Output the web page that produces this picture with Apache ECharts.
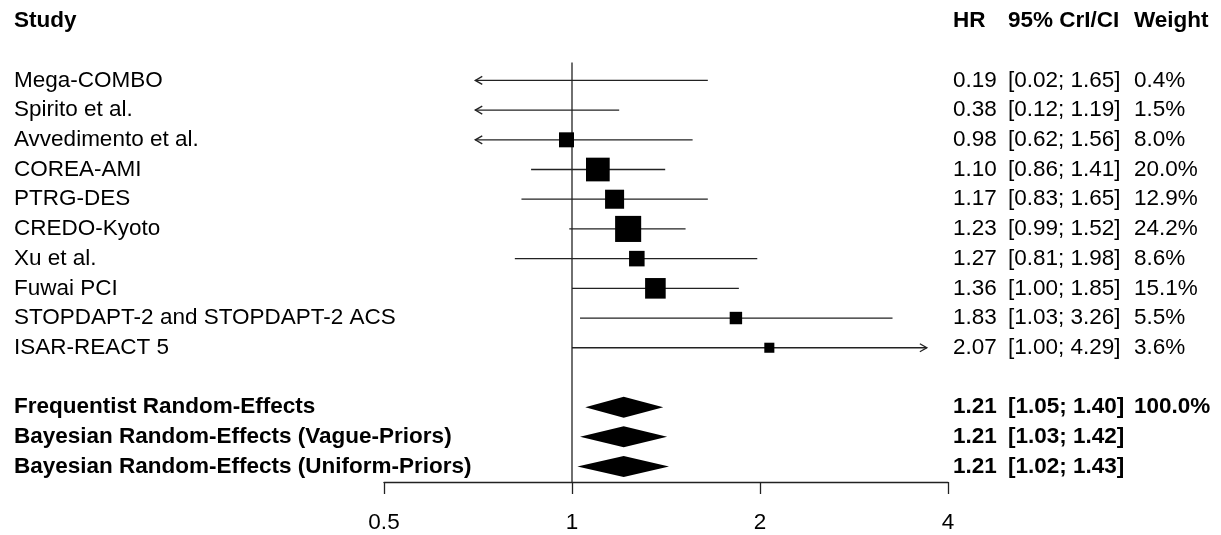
<!DOCTYPE html>
<html>
<head>
<meta charset="utf-8">
<script src="https://cdn.jsdelivr.net/npm/echarts@6/dist/echarts.min.js"></script>
<style>html,body{margin:0;padding:0;background:#fff}#c{width:1221px;height:535px}</style>
</head>
<body>
<div id="c"></div>
<script>
// ---- data ----
const studies = ['Mega-COMBO', 'Spirito et al.', 'Avvedimento et al.', 'COREA-AMI', 'PTRG-DES',
  'CREDO-Kyoto', 'Xu et al.', 'Fuwai PCI', 'STOPDAPT-2 and STOPDAPT-2 ACS', 'ISAR-REACT 5'];
const hr     = [0.19, 0.38, 0.98, 1.10, 1.17, 1.23, 1.27, 1.36, 1.83, 2.07];
const lower  = [0.02, 0.12, 0.62, 0.86, 0.83, 0.99, 0.81, 1.00, 1.03, 1.00];
const upper  = [1.65, 1.19, 1.56, 1.41, 1.65, 1.52, 1.98, 1.85, 3.26, 4.29];
const weight = [0.4, 1.5, 8.0, 20.0, 12.9, 24.2, 8.6, 15.1, 5.5, 3.6];

const summaryLabels = ['Frequentist Random-Effects', 'Bayesian Random-Effects (Vague-Priors)', 'Bayesian Random-Effects (Uniform-Priors)'];
const summaryHr     = [1.21, 1.21, 1.21];
const summaryLower  = [1.05, 1.03, 1.02];
const summaryUpper  = [1.40, 1.42, 1.43];
const summaryWeight = ['100.0%', '', ''];

const headers = ['Study', 'HR', '95% CrI/CI', 'Weight'];
const xTicks = [0.5, 1, 2, 4];

// ---- layout ----
const FONT = '"Liberation Sans", Arial, sans-serif';
const FS = 22.5;
const ROW_HEADER = 0, ROW_STUDY0 = 2, ROW_SUMMARY0 = 13;
const Y_MAX = 15.52;
const REF_TOP = 1.4;
const CLIP_LO = 0.7, CLIP_HI = 3.7;
const COL_X = [14, 953, 1008, 1134];
const INK = '#000', LINE = '#222';

const studyData = studies.map((s, i) => [hr[i], ROW_STUDY0 + i, lower[i], upper[i], weight[i]]);
const summaryData = summaryLabels.map((s, i) => [summaryHr[i], ROW_SUMMARY0 + i, summaryLower[i], summaryUpper[i]]);

const textRows = [];
textRows.push({row: ROW_HEADER, bold: true, cols: headers});
studies.forEach((s, i) => textRows.push({row: ROW_STUDY0 + i, bold: false,
  cols: [s, hr[i].toFixed(2), '[' + lower[i].toFixed(2) + '; ' + upper[i].toFixed(2) + ']', weight[i].toFixed(1) + '%']}));
summaryLabels.forEach((s, i) => textRows.push({row: ROW_SUMMARY0 + i, bold: true,
  cols: [s, summaryHr[i].toFixed(2), '[' + summaryLower[i].toFixed(2) + '; ' + summaryUpper[i].toFixed(2) + ']', summaryWeight[i]]}));
const textData = textRows.map((t, i) => [1, t.row, i]);

function renderText(params, api) {
  const t = textRows[api.value(2)];
  const y = api.coord([1, t.row])[1];
  return {
    type: 'group',
    children: t.cols.map((c, k) => ({
      type: 'text',
      style: {x: COL_X[k], y: y, text: c, fill: INK, font: (t.bold ? 'bold ' : '') + FS + 'px ' + FONT,
        textAlign: 'left', textVerticalAlign: 'middle'}
    }))
  };
}

function renderStudy(params, api) {
  const v = api.value(0), row = api.value(1), lo = api.value(2), up = api.value(3), w = api.value(4);
  const pL = api.coord([Math.max(lo, CLIP_LO), row]);
  const pU = api.coord([Math.min(up, CLIP_HI), row]);
  const ls = {stroke: LINE, lineWidth: 1.3, fill: null};
  const ch = [{type: 'line', shape: {x1: pL[0], y1: pL[1], x2: pU[0], y2: pU[1]}, style: ls}];
  if (lo < CLIP_LO) ch.push({type: 'polyline', shape: {points: [[pL[0] + 7, pL[1] - 4], [pL[0], pL[1]], [pL[0] + 7, pL[1] + 4]]}, style: ls});
  if (up > CLIP_HI) ch.push({type: 'polyline', shape: {points: [[pU[0] - 7, pU[1] - 4], [pU[0], pU[1]], [pU[0] - 7, pU[1] + 4]]}, style: ls});
  if (v >= CLIP_LO && v <= CLIP_HI) {
    const c = api.coord([v, row]);
    const s = 5.3 * Math.sqrt(w);
    ch.push({type: 'rect', shape: {x: c[0] - s / 2, y: c[1] - s / 2, width: s, height: s}, style: {fill: INK}});
  }
  return {type: 'group', children: ch};
}

function renderDiamond(params, api) {
  const v = api.value(0), row = api.value(1), lo = api.value(2), up = api.value(3);
  const c = api.coord([v, row]), pL = api.coord([lo, row]), pU = api.coord([up, row]);
  const h = 10.5;
  return {type: 'polygon', shape: {points: [[pL[0], c[1]], [c[0], c[1] - h], [pU[0], c[1]], [c[0], c[1] + h]]},
    style: {fill: INK}};
}

function renderRef(params, api) {
  const a = api.coord([1, REF_TOP]), b = api.coord([1, Y_MAX]);
  return {type: 'line', shape: {x1: a[0], y1: a[1], x2: b[0], y2: b[1]}, style: {stroke: LINE, lineWidth: 1.3}};
}

const chart = echarts.init(document.getElementById('c'), null, {renderer: 'canvas'});
chart.setOption({
  animation: false,
  backgroundColor: '#fff',
  grid: {left: 384, right: 1221 - 948, top: 21, bottom: 53},
  xAxis: {
    type: 'log', logBase: 2, min: xTicks[0], max: xTicks[xTicks.length - 1],
    axisLine: {show: true, onZero: false, lineStyle: {color: LINE, width: 1.3}},
    axisTick: {show: true, inside: false, length: 12, lineStyle: {color: LINE, width: 1.3}},
    axisLabel: {margin: 29, color: INK, fontSize: FS, fontFamily: FONT,
      formatter: v => String(+(+v).toPrecision(3))},
    splitLine: {show: false}, minorTick: {show: false}
  },
  yAxis: {type: 'value', inverse: true, min: 0, max: Y_MAX, show: false, splitLine: {show: false}},
  series: [
    {type: 'custom', clip: false, renderItem: renderRef, data: [[1, REF_TOP]], silent: true},
    {type: 'custom', clip: false, renderItem: renderStudy, data: studyData, silent: true},
    {type: 'custom', clip: false, renderItem: renderDiamond, data: summaryData, silent: true},
    {type: 'custom', clip: false, renderItem: renderText, data: textData, silent: true}
  ]
});
</script>
</body>
</html>
